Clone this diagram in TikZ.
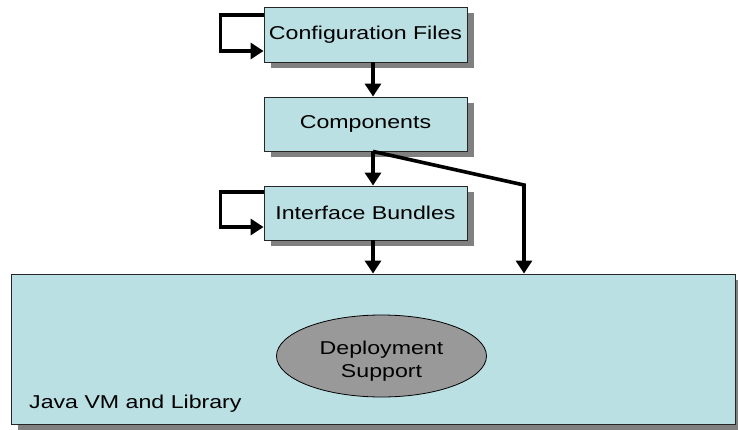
\documentclass[tikz,border=0pt]{standalone}
\usepackage{fontspec}
\setmainfont{Liberation Sans}[FakeStretch=1.245]
\usepackage{tikz}
\usetikzlibrary{arrows.meta,shapes,shadows}

\definecolor{boxcyan}{RGB}{186,224,227}
\definecolor{ovalgrey}{RGB}{153,153,153}
\definecolor{shadegrey}{RGB}{128,128,128}

\begin{document}
\begin{tikzpicture}[x=1pt,y=-1pt,
		box/.style={draw=black!85,line width=0.9pt,fill=boxcyan,
			drop shadow={shadow xshift=7pt,shadow yshift=-6pt,fill=shadegrey,opacity=1},
			font=\fontsize{18.6}{22}\selectfont,inner sep=0pt},
		flow/.style={line width=3.6pt,-{Triangle[length=13pt,width=16pt]}}]
		\useasboundingbox (0,0) rectangle (738,430);
		\node[box,minimum width=203pt,minimum height=55pt] (Config) at (365.5,34.5) {Configuration Files};
		\node[box,minimum width=203pt,minimum height=54pt] (Comp) at (365.5,124) {Components};
		\node[box,minimum width=203pt,minimum height=54pt] (Iface) at (365.5,213) {Interface Bundles};
		\node[box,minimum width=724pt,minimum height=150pt] (JavaVM) at (373,349) {};
		\node[draw=black,line width=0.8pt,fill=ovalgrey,ellipse,minimum width=210pt,minimum height=82pt,
			align=center,inner sep=0pt,font=\fontsize{18.6}{23}\selectfont] (Deploy) at (381.5,356) {\rule{0pt}{23pt}Deployment\\Support};
		\node[anchor=base west,inner sep=0pt,font=\fontsize{18.6}{22}\selectfont] (JavaLbl) at (29,408) {Java VM and Library};
		\coordinate (Bend) at (524,185);
		\draw[flow] ([yshift=19.5pt]Config.west) -- ++(-43,0) |- ([yshift=-16.5pt]Config.west);
		\draw[flow] ([yshift=21pt]Iface.west) -- ++(-43,0) |- ([yshift=-14pt]Iface.west);
		\draw[flow] ([xshift=7.5pt]Config.south) -- ([xshift=7.5pt]Comp.north);
		\draw[flow] ([xshift=7.5pt]Comp.south) -- ([xshift=7.5pt]Iface.north);
		\draw[flow] ([xshift=7.5pt]Iface.south) -- ([xshift=7.5pt]Iface.south |- JavaVM.north);
		\draw[flow] ([xshift=7.5pt]Comp.south) -- (Bend) -- (Bend |- JavaVM.north);
	\end{tikzpicture}
\end{document}
